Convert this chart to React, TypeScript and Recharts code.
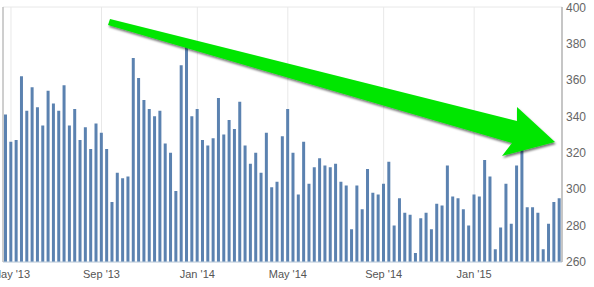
import { BarChart, Bar, XAxis, YAxis, CartesianGrid } from "recharts";

// weekly values (one bar per week, from late Apr 2013)
const values = [
  341, 326, 327, 362, 343, 356, 345, 335, 354, 347, 343, 357, 335, 344, 327, 334, 322, 336,
  331, 322, 293, 309, 306, 307, 372, 361, 349, 344, 340, 343, 325, 320, 299, 368, 379, 340,
  344, 327, 324, 328, 350, 330, 338, 333, 348, 324, 314, 320, 309, 331, 301, 304, 329, 344,
  320, 297, 326, 303, 312, 317, 313, 312, 314, 304, 302, 278, 302, 289, 311, 298, 297, 303,
  315, 280, 295, 287, 286, 265, 284, 287, 278, 292, 291, 313, 296, 295, 289, 280, 297, 296,
  316, 307, 267, 279, 303, 281, 313, 326, 290, 290, 287, 267, 281, 293, 295,
];

const firstWeek = Date.UTC(2013, 3, 28);
const weeks = values.map((_, i) =>
  new Date(firstWeek + i * 7 * 86400000).toISOString().slice(0, 10)
);

const tickWeekIdx = [1, 18, 36, 53, 71, 88];
const tickLabels = ["May '13", "Sep '13", "Jan '14", "May '14", "Sep '14", "Jan '15"];
const yTicks = [260, 280, 300, 320, 340, 360, 380, 400];

const data = weeks.map((week, i) => ({ week, value: values[i] }));
const xTicks = tickWeekIdx.map((i) => weeks[i]);

const font = '"Liberation Sans", Arial, sans-serif';

export default function App() {
  return (
    <div style={{ position: "absolute", left: 0, top: 0, width: 594, height: 287, background: "#fff" }}>
      <BarChart
        width={594}
        height={287}
        data={data}
        margin={{ top: 7, right: 0, bottom: 0, left: 0 }}
        barSize={3}
      >
        <CartesianGrid stroke="#e8e8e8" vertical={true} />
        <XAxis
          dataKey="week"
          ticks={xTicks}
          interval={0}
          height={25}
          tickLine={false}
          axisLine={{ stroke: "#c0d0e0" }}
          tick={{ fontSize: 11, fill: "#555", fontFamily: font }}
          tickFormatter={(w: string) => tickLabels[xTicks.indexOf(w)] ?? ""}
        />
        <YAxis
          yAxisId="l"
          orientation="left"
          width={3}
          tick={false}
          tickLine={false}
          domain={[260, 400]}
          axisLine={{ stroke: "#aaa" }}
        />
        <YAxis
          yAxisId="r"
          orientation="right"
          width={32}
          domain={[260, 400]}
          ticks={yTicks}
          allowDataOverflow
          tickLine={false}
          tickSize={0}
          tickMargin={4}
          axisLine={{ stroke: "#999" }}
          tick={{ fontSize: 12, fill: "#666", fontFamily: font }}
        />
        <Bar yAxisId="r" dataKey="value" fill="#5b82b0" isAnimationActive={false} />
      </BarChart>
      <svg
        width={594}
        height={287}
        style={{ position: "absolute", left: 0, top: 0, pointerEvents: "none" }}
      >
        <defs>
          <filter id="sh" x="-10%" y="-50%" width="120%" height="200%">
            <feDropShadow dx="1" dy="2" stdDeviation="1.2" floodColor="#000" floodOpacity="0.55" />
          </filter>
        </defs>
        <polygon
          points="110,19 517,121 517,107 555,142 502,156 512,143 108,25"
          fill="#00e600"
          filter="url(#sh)"
        />
      </svg>
    </div>
  );
}
